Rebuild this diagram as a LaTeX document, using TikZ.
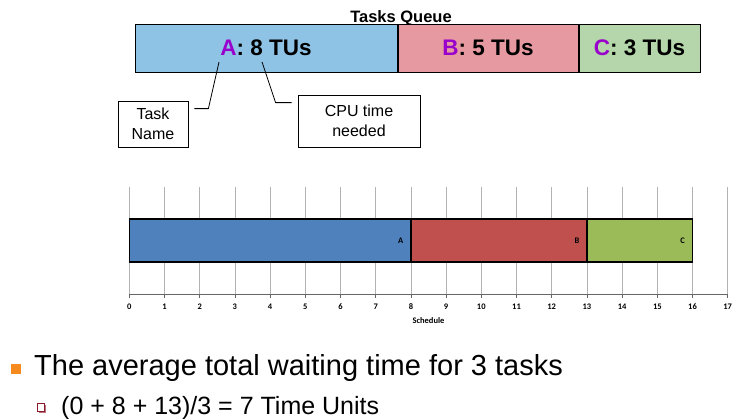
\documentclass[tikz,border=0pt]{standalone}
\usepackage{fontspec}
\setmainfont{Liberation Sans}
\newfontfamily\chartfont{Carlito}
\usetikzlibrary{positioning}

\definecolor{qblue}{HTML}{8EC3E6}
\definecolor{qred}{HTML}{E699A0}
\definecolor{qgreen}{HTML}{B4D6AA}
\definecolor{qletter}{HTML}{9900CC}
\definecolor{barA}{HTML}{4F81BD}
\definecolor{barB}{HTML}{C0504D}
\definecolor{barC}{HTML}{9BBB59}
\definecolor{bulorange}{HTML}{F58B1F}
\definecolor{bulred}{HTML}{8B1A2B}

% purple task letter
\newcommand{\tsk}[1]{\textcolor{qletter}{#1}}

\begin{document}
\begin{tikzpicture}[x=1pt,y=-1pt,
  qbox/.style={draw,line width=1pt,minimum height=48pt,inner sep=0pt,
    font=\fontsize{22.5}{24}\selectfont\bfseries},
  note/.style={draw,line width=0.8pt,align=center,inner sep=0pt,
    font=\fontsize{16}{20}\selectfont},
  gridline/.style={gray!60,line width=0.8pt},
  bar/.style={draw=black,line width=1.3pt},
  barlabel/.style={anchor=east,font=\chartfont\fontsize{8.5}{10}\selectfont\bfseries},
  ticklabel/.style={font=\chartfont\fontsize{8.5}{10}\selectfont\bfseries}]
\useasboundingbox (0,0) rectangle (738,418);

%tasks queue
\node[font=\fontsize{16.5}{18}\selectfont\bfseries,anchor=base] (title) at (401,22.5) {Tasks Queue};
\node[qbox,fill=qblue,minimum width=262pt] (qa) at (266,48) {\tsk{A}: 8 TUs};
\node[qbox,fill=qred,minimum width=180pt,right=0pt of qa] (qb) {\tsk{B}: 5 TUs};
\node[qbox,fill=qgreen,minimum width=121pt,right=0pt of qb] (qc) {\tsk{C}: 3 TUs};
\coordinate (aname) at (219,62);
\coordinate (acpu) at (262,62);

%callouts
\node[note,minimum width=70pt,minimum height=46pt] (tn) at (153,124) {Task\\Name};
\node[note,minimum width=122pt,minimum height=52pt] (cpu) at (359,121) {CPU time\\needed};
\draw[line width=0.8pt] ([xshift=6pt,yshift=-8pt]tn.north east) -- ++(14,0) -- (aname);
\draw[line width=0.8pt] ([xshift=-6pt,yshift=-8pt]cpu.north west) -- ++(-16,0) -- (acpu);

%schedule chart
\begin{scope}[shift={(129.3,0)},x=35.2pt]
  \foreach \i in {0,...,17}
    \draw[gridline] (\i,187) -- (\i,294);
  \draw[gray!80!black,line width=0.8pt] (0,294) -- (17,294);
  \foreach \i in {0,...,17}{
    \draw[gray!80!black,line width=0.8pt] (\i,294) -- (\i,298);
    \node[ticklabel] (t\i) at (\i,307) {\i};
  }
  \filldraw[bar,fill=barA] (0,219) rectangle (8,262);
  \filldraw[bar,fill=barB] (8,219) rectangle (13,262);
  \filldraw[bar,fill=barC] (13,219) rectangle (16,262);
  \node[barlabel] (la) at ([xshift=-4pt]8,240.5) {A};
  \node[barlabel] (lb) at ([xshift=-4pt]13,240.5) {B};
  \node[barlabel] (lc) at ([xshift=-4pt]16,240.5) {C};
  \node[ticklabel] (sched) at (8.5,321) {Schedule};
\end{scope}

%bullets
\fill[bulorange] (11,364) rectangle (21,374);
\node[anchor=base west,inner sep=0pt,font=\fontsize{29}{32}\selectfont] (avg) at (34,375)
  {The average total waiting time for 3 tasks};
\fill[bulred!60] (38.5,404.5) rectangle (46,413);
\draw[bulred,fill=white,line width=0.8pt] (37,403) rectangle (44.5,411);
\node[anchor=base west,inner sep=0pt,font=\fontsize{25}{28}\selectfont] (calc) at (61,414)
  {(0 + 8 + 13)/3 = 7 Time Units};
\end{tikzpicture}
\end{document}
